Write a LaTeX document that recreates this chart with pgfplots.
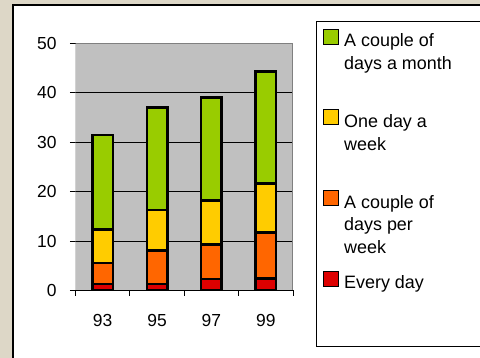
\documentclass[border=0pt]{standalone}
\usepackage{fontspec}
\setmainfont{Liberation Sans}
\usepackage{pgfplots}
\pgfplotsset{compat=1.18}
\usepackage{pgfplotstable}
\definecolor{cgreen}{HTML}{99CC00}
\definecolor{cyellow}{HTML}{FFCC00}
\definecolor{corange}{HTML}{FF6600}
\definecolor{cred}{HTML}{DD0000}
\definecolor{plotgray}{HTML}{C0C0C0}
\definecolor{framegray}{HTML}{808080}
\definecolor{bgbeige}{HTML}{DDD7C7}
\pgfplotstableread{
x red orange yellow green
0 1.3 4.3 6.8 19.1
1 1.3 6.8 8.2 20.7
2 2.3 7.0 8.9 20.9
3 2.4 9.3 10.0 22.6
}\datatable
\begin{document}
\begin{tikzpicture}
\path[use as bounding box, fill=bgbeige] (0bp,0bp) rectangle (480bp,358bp);
\fill[white] (13bp,0bp) rectangle (480bp,353bp);
\draw[black, line width=1.3bp] (13bp,0bp) -- (13bp,353bp) -- (480bp,353bp);
\begin{axis}[
  at={(75.5bp,67.5bp)}, anchor=south west,
  scale only axis, width=217.5bp, height=247bp,
  xmin=-0.5, xmax=3.5, ymin=0, ymax=50,
  ybar stacked, bar width=20.5bp,
  xtick={-0.5,0.5,1.5,2.5,3.5},
  xticklabels={93,95,97,99},
  x tick label as interval,
  ytick={0,10,20,30,40,50},
  xtick pos=bottom, ytick pos=left,
  tick align=outside,
  major tick length=5.5bp,
  tick style={black, line width=0.8bp},
  ymajorgrids,
  major grid style={black, line width=0.8bp},
  axis background/.style={fill=plotgray},
  axis line style={draw=none},
  tick label style={font=\fontsize{17.5}{20}\selectfont},
  xticklabel style={yshift=-15bp},
  yticklabel style={xshift=-10bp},
  /pgf/number format/assume math mode=true,
  legend image code/.code={\draw[#1, line width=0.8bp] (0bp,2.5bp) rectangle (15bp,17.5bp);},
  reverse legend,
  legend style={
    at={(1.1057,1.0891)}, anchor=north west,
    draw=black, line width=0.8bp, fill=white,
    inner xsep=7bp, inner ysep=6.7bp,
    cells={anchor=base west},
    nodes={inner sep=0pt, text depth=, text height=},
    row sep=0pt, column sep=5bp,
    font=\fontsize{18}{23}\selectfont,
  },
]
\addplot[fill=cred, draw=black, line width=2.6bp] table[x=x,y=red]{\datatable};
\addlegendentry{\parbox[t][66.7bp][t]{129bp}{\strut Every day}}
\addplot[fill=corange, draw=black, line width=2.6bp] table[x=x,y=orange]{\datatable};
\addlegendentry{\parbox[t][78.9bp][t]{129bp}{\strut A couple of\\days per\\week}}
\addplot[fill=cyellow, draw=black, line width=2.6bp] table[x=x,y=yellow]{\datatable};
\addlegendentry{\parbox[t][78.9bp][t]{129bp}{\strut One day a\\week}}
\addplot[fill=cgreen, draw=black, line width=2.6bp] table[x=x,y=green]{\datatable};
\addlegendentry{\parbox[t][78.9bp][t]{129bp}{\strut A couple of\\days a month}}
\draw[framegray, line width=1.8bp] (rel axis cs:0,0) -- (rel axis cs:0,1) -- (rel axis cs:1,1) -- (rel axis cs:1,0);
\draw[black, line width=1.2bp] (rel axis cs:0,0) -- (rel axis cs:1,0);
\end{axis}
\end{tikzpicture}
\end{document}
